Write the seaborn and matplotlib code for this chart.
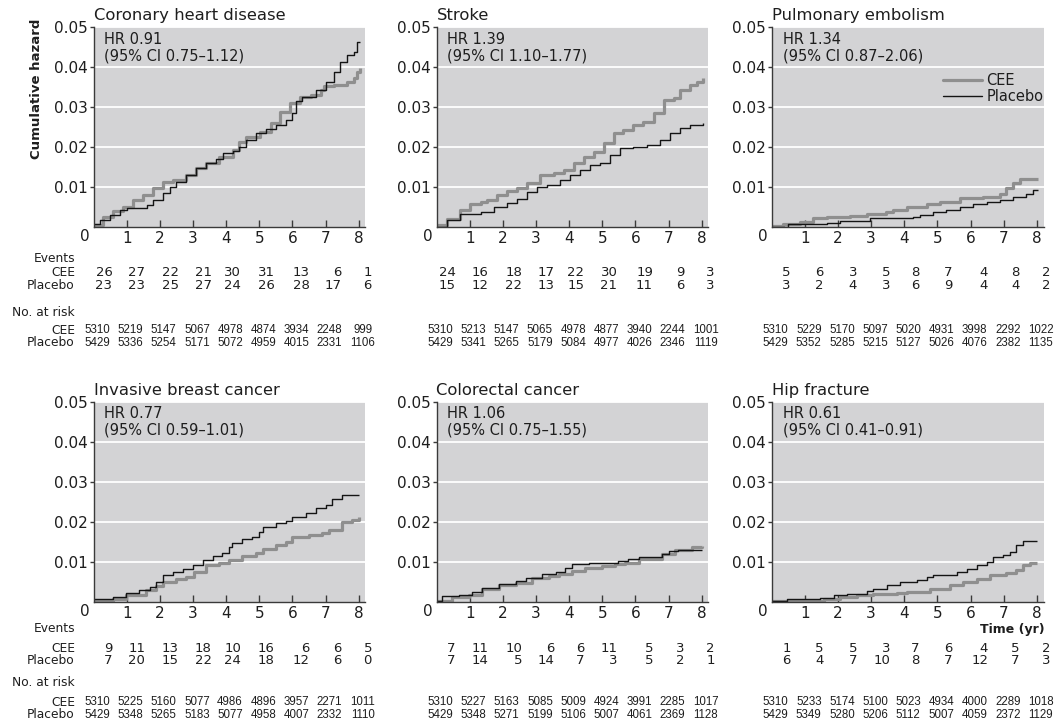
import matplotlib
matplotlib.use("Agg")
import matplotlib.pyplot as plt
import matplotlib.transforms as mtransforms
from matplotlib.lines import Line2D
from matplotlib import font_manager
import pandas as pd
import seaborn as sns

# ---------------------------------------------------------------- data
panel_titles = ["Coronary heart disease", "Stroke", "Pulmonary embolism",
                "Invasive breast cancer", "Colorectal cancer", "Hip fracture"]
hr_labels = ["HR 0.91\n(95% CI 0.75\u20131.12)", "HR 1.39\n(95% CI 1.10\u20131.77)",
             "HR 1.34\n(95% CI 0.87\u20132.06)", "HR 0.77\n(95% CI 0.59\u20131.01)",
             "HR 1.06\n(95% CI 0.75\u20131.55)", "HR 0.61\n(95% CI 0.41\u20130.91)"]
arms = ["CEE", "Placebo"]
year_ticks = [1, 2, 3, 4, 5, 6, 7, 8]
hazard_ticks = [0.01, 0.02, 0.03, 0.04, 0.05]

# cumulative hazard step curves (time in years, cumulative hazard)
chd_cee_t = [0, 0.3, 0.6, 0.9, 1.2, 1.5, 1.8, 2.1, 2.4, 2.8, 3.1, 3.4, 3.8, 4.2, 4.4, 4.6,
             5.03, 5.34, 5.64, 5.94, 6.24, 6.55, 6.85, 6.95, 7.25, 7.65, 7.85, 7.95, 8.05]
chd_cee_h = [0.0005, 0.0025, 0.004, 0.005, 0.0067, 0.008, 0.0096, 0.0113, 0.0117, 0.013,
             0.0146, 0.0159, 0.0176, 0.0192, 0.0213, 0.0226, 0.0238, 0.0259, 0.0288, 0.0309,
             0.0326, 0.033, 0.0343, 0.0353, 0.0355, 0.0364, 0.0372, 0.0389, 0.0397]
chd_pla_t = [0, 0.2, 0.5, 0.8, 1.0, 1.6, 1.8, 2.1, 2.3, 2.5, 2.8, 3.1, 3.4, 3.7, 3.9, 4.2,
             4.4, 4.6, 4.9, 5.2, 5.5, 5.8, 6.0, 6.1, 6.3, 6.7, 7.0, 7.25, 7.45, 7.65, 7.85,
             7.95, 8.05]
chd_pla_h = [0.0007, 0.0017, 0.003, 0.0043, 0.0047, 0.0054, 0.0067, 0.0084, 0.01, 0.0113,
             0.013, 0.0146, 0.0159, 0.0169, 0.0184, 0.0191, 0.02, 0.0217, 0.0234, 0.0244,
             0.0255, 0.0268, 0.0284, 0.0314, 0.0326, 0.0343, 0.0364, 0.0389, 0.0414, 0.0431,
             0.0439, 0.0464, 0.0464]

stroke_cee_t = [0, 0.32, 0.72, 1.02, 1.33, 1.53, 1.83, 2.13, 2.43, 2.73, 3.13, 3.53, 3.84,
                4.14, 4.44, 4.74, 5.04, 5.34, 5.64, 5.94, 6.24, 6.55, 6.85, 7.15, 7.35, 7.65,
                7.85, 8.05]
stroke_cee_h = [0.0004, 0.002, 0.0042, 0.0057, 0.0063, 0.0067, 0.008, 0.009, 0.0096, 0.0109,
                0.013, 0.0135, 0.0142, 0.0159, 0.0176, 0.0188, 0.0209, 0.0234, 0.0242, 0.0255,
                0.0263, 0.0284, 0.0318, 0.0322, 0.0343, 0.0355, 0.0364, 0.0372]
stroke_pla_t = [0, 0.32, 0.72, 1.33, 1.73, 2.13, 2.43, 2.73, 3.03, 3.33, 3.73, 4.04, 4.34,
                4.64, 4.94, 5.24, 5.54, 5.94, 6.35, 6.75, 7.05, 7.35, 7.65, 8.05]
stroke_pla_h = [0, 0.0017, 0.0033, 0.0038, 0.005, 0.0059, 0.0069, 0.0088, 0.01, 0.0105,
                0.0117, 0.013, 0.0142, 0.0155, 0.0159, 0.018, 0.0197, 0.0201, 0.0205, 0.0217,
                0.0234, 0.0247, 0.0255, 0.0261]

pe_cee_t = [0, 0.35, 0.85, 1.25, 1.66, 2.36, 2.86, 3.46, 3.66, 4.07, 4.67, 5.07, 5.67, 6.38,
            6.88, 7.08, 7.28, 7.48, 8.03]
pe_cee_h = [0.0002, 0.0007, 0.0013, 0.0021, 0.0025, 0.0027, 0.0031, 0.0038, 0.0043, 0.0049,
            0.0057, 0.0063, 0.0071, 0.0075, 0.0082, 0.0096, 0.011, 0.0119, 0.0119]
pe_pla_t = [0, 0.5, 1.66, 2.06, 2.96, 4.27, 4.47, 4.87, 5.27, 5.67, 6.07, 6.48, 6.88, 7.28,
            7.68, 7.88, 8.03]
pe_pla_h = [0, 0.0007, 0.001, 0.0015, 0.0021, 0.0025, 0.0029, 0.0038, 0.0043, 0.005, 0.0057,
            0.0063, 0.0067, 0.0075, 0.0082, 0.0092, 0.0092]

breast_cee_t = [0, 0.58, 0.98, 1.58, 1.89, 2.09, 2.49, 2.79, 3.04, 3.39, 3.79, 4.09, 4.49,
                4.89, 5.1, 5.5, 5.8, 6.0, 6.5, 6.9, 7.1, 7.5, 7.8, 8.0]
breast_cee_h = [0.0002, 0.0008, 0.0017, 0.0029, 0.0039, 0.005, 0.0056, 0.0062, 0.0075, 0.0092,
                0.0097, 0.0104, 0.0114, 0.0121, 0.0133, 0.0142, 0.015, 0.0161, 0.0167, 0.0173,
                0.0179, 0.02, 0.0204, 0.0211]
breast_pla_t = [0, 0.58, 0.98, 1.38, 1.69, 1.89, 2.09, 2.39, 2.69, 2.99, 3.29, 3.59, 3.89,
                4.09, 4.19, 4.49, 4.79, 4.99, 5.1, 5.5, 5.8, 6.0, 6.4, 6.7, 7.0, 7.2, 7.5, 8.0]
breast_pla_h = [0.0006, 0.0011, 0.0021, 0.0029, 0.0037, 0.005, 0.0067, 0.0075, 0.0083, 0.0092,
                0.0104, 0.0114, 0.0121, 0.0137, 0.0147, 0.0158, 0.0162, 0.0175, 0.0187, 0.0196,
                0.0202, 0.0212, 0.0221, 0.0235, 0.0242, 0.0258, 0.0267, 0.0267]

colorectal_cee_t = [0, 0.48, 0.98, 1.38, 1.88, 2.39, 2.89, 3.39, 3.69, 4.09, 4.49, 4.99, 5.39,
                    5.69, 6.1, 6.8, 7.2, 7.7, 8.0]
colorectal_cee_h = [0.0002, 0.0012, 0.0018, 0.0031, 0.0042, 0.0048, 0.0059, 0.0064, 0.007,
                    0.0077, 0.0084, 0.009, 0.0095, 0.0098, 0.0106, 0.0119, 0.0129, 0.0136,
                    0.014]
colorectal_pla_t = [0, 0.18, 0.68, 1.08, 1.38, 1.88, 2.39, 2.69, 3.19, 3.59, 3.89, 4.09, 4.59,
                    5.49, 5.79, 6.1, 6.8, 7.0, 7.3, 8.0]
colorectal_pla_h = [0.0003, 0.0014, 0.0018, 0.0025, 0.0035, 0.0045, 0.0052, 0.006, 0.0069,
                    0.0075, 0.0085, 0.0094, 0.0098, 0.0102, 0.0106, 0.0112, 0.012, 0.0126,
                    0.013, 0.013]

hip_cee_t = [0, 0.87, 1.57, 2.07, 2.57, 3.07, 3.77, 4.07, 4.77, 5.38, 5.78, 6.18, 6.58, 7.08,
             7.38, 7.58, 7.78, 8.0]
hip_cee_h = [0.0001, 0.0003, 0.0008, 0.0013, 0.0016, 0.002, 0.0023, 0.0024, 0.0033, 0.0041,
             0.005, 0.0058, 0.0067, 0.0071, 0.0079, 0.0092, 0.0096, 0.0096]
hip_pla_t = [0, 0.47, 1.47, 1.87, 2.27, 2.87, 3.07, 3.47, 3.87, 4.37, 4.67, 4.87, 5.58, 5.88,
             6.18, 6.48, 6.68, 6.98, 7.18, 7.38, 7.58, 8.0]
hip_pla_h = [0.0003, 0.0008, 0.0009, 0.0016, 0.002, 0.0026, 0.0033, 0.0043, 0.005, 0.0054,
             0.0062, 0.0068, 0.0075, 0.0081, 0.0092, 0.01, 0.0113, 0.0117, 0.0124, 0.0142,
             0.0151, 0.0151]

# events per year
chd_events_cee = [26, 27, 22, 21, 30, 31, 13, 6, 1]
chd_events_pla = [23, 23, 25, 27, 24, 26, 28, 17, 6]
stroke_events_cee = [24, 16, 18, 17, 22, 30, 19, 9, 3]
stroke_events_pla = [15, 12, 22, 13, 15, 21, 11, 6, 3]
pe_events_cee = [5, 6, 3, 5, 8, 7, 4, 8, 2]
pe_events_pla = [3, 2, 4, 3, 6, 9, 4, 4, 2]
breast_events_cee = [9, 11, 13, 18, 10, 16, 6, 6, 5]
breast_events_pla = [7, 20, 15, 22, 24, 18, 12, 6, 0]
colorectal_events_cee = [7, 11, 10, 6, 6, 11, 5, 3, 2]
colorectal_events_pla = [7, 14, 5, 14, 7, 3, 5, 2, 1]
hip_events_cee = [1, 5, 5, 3, 7, 6, 4, 5, 2]
hip_events_pla = [6, 4, 7, 10, 8, 7, 12, 7, 3]

# numbers at risk at start of each year
chd_risk_cee = [5310, 5219, 5147, 5067, 4978, 4874, 3934, 2248, 999]
chd_risk_pla = [5429, 5336, 5254, 5171, 5072, 4959, 4015, 2331, 1106]
stroke_risk_cee = [5310, 5213, 5147, 5065, 4978, 4877, 3940, 2244, 1001]
stroke_risk_pla = [5429, 5341, 5265, 5179, 5084, 4977, 4026, 2346, 1119]
pe_risk_cee = [5310, 5229, 5170, 5097, 5020, 4931, 3998, 2292, 1022]
pe_risk_pla = [5429, 5352, 5285, 5215, 5127, 5026, 4076, 2382, 1135]
breast_risk_cee = [5310, 5225, 5160, 5077, 4986, 4896, 3957, 2271, 1011]
breast_risk_pla = [5429, 5348, 5265, 5183, 5077, 4958, 4007, 2332, 1110]
colorectal_risk_cee = [5310, 5227, 5163, 5085, 5009, 4924, 3991, 2285, 1017]
colorectal_risk_pla = [5429, 5348, 5271, 5199, 5106, 5007, 4061, 2369, 1128]
hip_risk_cee = [5310, 5233, 5174, 5100, 5023, 4934, 4000, 2289, 1018]
hip_risk_pla = [5429, 5349, 5280, 5206, 5112, 5007, 4059, 2372, 1129]

curves = [
    ((chd_cee_t, chd_cee_h), (chd_pla_t, chd_pla_h)),
    ((stroke_cee_t, stroke_cee_h), (stroke_pla_t, stroke_pla_h)),
    ((pe_cee_t, pe_cee_h), (pe_pla_t, pe_pla_h)),
    ((breast_cee_t, breast_cee_h), (breast_pla_t, breast_pla_h)),
    ((colorectal_cee_t, colorectal_cee_h), (colorectal_pla_t, colorectal_pla_h)),
    ((hip_cee_t, hip_cee_h), (hip_pla_t, hip_pla_h)),
]
events = [
    (chd_events_cee, chd_events_pla), (stroke_events_cee, stroke_events_pla),
    (pe_events_cee, pe_events_pla), (breast_events_cee, breast_events_pla),
    (colorectal_events_cee, colorectal_events_pla), (hip_events_cee, hip_events_pla),
]
at_risk = [
    (chd_risk_cee, chd_risk_pla), (stroke_risk_cee, stroke_risk_pla),
    (pe_risk_cee, pe_risk_pla), (breast_risk_cee, breast_risk_pla),
    (colorectal_risk_cee, colorectal_risk_pla), (hip_risk_cee, hip_risk_pla),
]

# ---------------------------------------------------------------- style
sns.set_theme(style="white")
plt.rcParams["font.family"] = ["DejaVu Sans"]
installed = {f.name for f in font_manager.fontManager.ttflist}
narrow_font = "Liberation Sans Narrow" if "Liberation Sans Narrow" in installed else "Liberation Sans"
narrow_size = 10.0 if narrow_font == "Liberation Sans Narrow" else 8.3

TEXT = "#1e1e1e"
PANEL_BG = "#d3d3d5"
AXIS_COL = "#3a3a3a"
ARM_STYLE = {"CEE": dict(color="#8f8f8f", linewidth=2.3),
             "Placebo": dict(color="#141414", linewidth=1.0)}

W, H = 1056, 724
fig = plt.figure(figsize=(W / 100, H / 100), dpi=100)
fig.patch.set_facecolor("white")

col_left = [93.5, 436.5, 771.7]
row_top = [27.3, 401.7]
row_bottom = [226.7, 601.7]
px_per_year = 33.15
xmax = 8.2

# y positions (pixels from top) of the table rows below each panel row
table_rows = [
    {"events": 259, "ev_cee": 273, "ev_pla": 286, "risk": 312, "rk_cee": 330, "rk_pla": 343},
    {"events": 628, "ev_cee": 648, "ev_pla": 661, "risk": 682, "rk_cee": 702, "rk_pla": 715},
]
event_x = [0.57, 1.56, 2.58, 3.57, 4.46, 5.46, 6.53, 7.48, 8.4]
risk_x = [0.12, 1.12, 2.12, 3.12, 4.12, 5.12, 6.12, 7.12, 8.12]


def fy(ypx):
    return 1 - ypx / H


for i in range(6):
    r, c = divmod(i, 3)
    left = col_left[c]
    right = left + xmax * px_per_year
    top, bottom = row_top[r], row_bottom[r]
    ax = fig.add_axes([left / W, 1 - bottom / H, (right - left) / W, (bottom - top) / H])
    ax.set_facecolor(PANEL_BG)

    for arm, (t, h) in zip(arms, curves[i]):
        df = pd.DataFrame({"time": t, "hazard": h})
        sns.lineplot(data=df, x="time", y="hazard", ax=ax, estimator=None, sort=False,
                     drawstyle="steps-post", legend=False, label=arm,
                     solid_capstyle="butt", **ARM_STYLE[arm])

    ax.set_xlim(0, xmax)
    ax.set_ylim(0, 0.05)
    ax.set_xticks(year_ticks)
    ax.set_xticklabels([str(v) for v in year_ticks])
    ax.set_yticks(hazard_ticks)
    ax.set_yticklabels([f"{v:.2f}" for v in hazard_ticks])
    ax.set_xlabel("")
    ax.set_ylabel("")
    ax.yaxis.grid(True, color="white", linewidth=1.3)
    ax.xaxis.grid(False)
    ax.set_axisbelow(True)
    for side in ("top", "right"):
        ax.spines[side].set_visible(False)
    for side in ("left", "bottom"):
        ax.spines[side].set_color(AXIS_COL)
        ax.spines[side].set_linewidth(1.0)
    ax.tick_params(axis="x", bottom=True, direction="in", length=5, width=1,
                   color=AXIS_COL, pad=3, labelsize=11, labelcolor=TEXT)
    ax.tick_params(axis="y", left=True, direction="out", length=3, width=1,
                   color=AXIS_COL, pad=1, labelsize=11, labelcolor=TEXT)
    ax.annotate("0", xy=(0, 0), xycoords="axes fraction", xytext=(-9, -9.5),
                textcoords="offset pixels", ha="center", va="center",
                fontsize=11, color=TEXT)

    ax.set_title(panel_titles[i], loc="left", fontsize=11.8, pad=5, color=TEXT)
    ax.text(0.04, 0.978, hr_labels[i], transform=ax.transAxes, ha="left", va="top",
            fontsize=10.5, linespacing=1.15, color=TEXT)

    if i == 2:
        handles = [Line2D([], [], **ARM_STYLE[a]) for a in arms]
        ax.legend(handles, arms, loc="upper right", bbox_to_anchor=(1.0, 0.772),
                  frameon=False, fontsize=10.5, handlelength=2.7, handletextpad=0.3,
                  labelspacing=0.1, borderpad=0, borderaxespad=0,
                  labelcolor=TEXT)
    elif ax.get_legend() is not None:
        ax.get_legend().remove()

    # events and numbers at risk beneath the panel
    rows = table_rows[r]
    trans = mtransforms.blended_transform_factory(ax.transData, fig.transFigure)
    ev_cee, ev_pla = events[i]
    rk_cee, rk_pla = at_risk[i]
    for k in range(9):
        ax.text(event_x[k], fy(rows["ev_cee"]), str(ev_cee[k]), transform=trans,
                ha="right", va="center", fontsize=9.5, color=TEXT)
        ax.text(event_x[k], fy(rows["ev_pla"]), str(ev_pla[k]), transform=trans,
                ha="right", va="center", fontsize=9.5, color=TEXT)
        ax.text(risk_x[k], fy(rows["rk_cee"]), str(rk_cee[k]), transform=trans,
                ha="center", va="center", fontsize=narrow_size, family=narrow_font,
                color=TEXT)
        ax.text(risk_x[k], fy(rows["rk_pla"]), str(rk_pla[k]), transform=trans,
                ha="center", va="center", fontsize=narrow_size, family=narrow_font,
                color=TEXT)

# row labels of the tables
for rows in table_rows:
    for key, txt in [("events", "Events"), ("ev_cee", "CEE"), ("ev_pla", "Placebo"),
                     ("risk", "No. at risk"), ("rk_cee", "CEE"), ("rk_pla", "Placebo")]:
        fig.text(75 / W, fy(rows[key]), txt, ha="right", va="center", fontsize=8.8,
                 color=TEXT)

fig.text(37 / W, fy(89), "Cumulative hazard", rotation=90, ha="center", va="center",
         fontsize=9.5, fontweight="bold", color=TEXT)
fig.text(1045 / W, fy(630), "Time (yr)", ha="right", va="center", fontsize=9,
         fontweight="bold", color=TEXT)

fig.savefig("out.png", dpi=100, facecolor="white")
